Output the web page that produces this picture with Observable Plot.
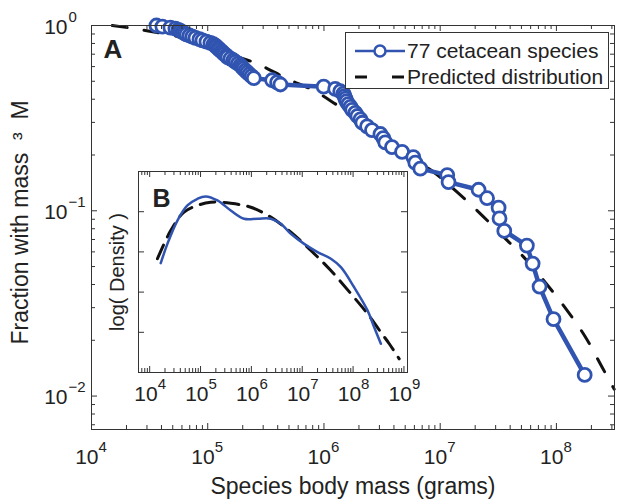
<!DOCTYPE html>
<html><head><meta charset="utf-8">
<script src="https://cdn.jsdelivr.net/npm/d3@7"></script>
<script src="https://cdn.jsdelivr.net/npm/@observablehq/plot@0.6"></script>
<style>
body{margin:0;background:#fff;}
#wrap{position:relative;width:624px;height:503px;font-family:"Liberation Sans",Arial,sans-serif;color:#222;overflow:hidden;}
#wrap > svg{position:absolute;}
#legend{position:absolute;left:345px;top:32px;width:264px;height:57px;border:1px solid #333;background:#fff;box-sizing:border-box;}
#legend .row{position:absolute;left:0;height:26px;width:262px;}
#legend .row svg{position:absolute;left:0;top:0;}
#legend .row span{position:absolute;left:61px;top:1px;font-size:21px;line-height:24px;white-space:nowrap;}
</style></head>
<body><div id="wrap"></div>
<script>
// ---------- data ----------
const speciesMass = [3.62e4,4.07e4,4.77e4,5.27e4,5.60e4,5.82e4,6.06e4,6.30e4,6.56e4,6.96e4,7.38e4,7.84e4,8.49e4,9.00e4,9.75e4,1.055e5,1.12e5,1.165e5,1.19e5,1.236e5,1.26e5,1.31e5,1.35e5,1.39e5,1.45e5,1.48e5,1.57e5,1.66e5,1.73e5,1.82e5,1.91e5,1.97e5,2.03e5,2.11e5,2.19e5,2.28e5,2.38e5,2.49e5,
  3.58e5,3.95e5,4.22e5,9.94e5,1.25e6,1.38e6,1.47e6,1.50e6,1.53e6,1.56e6,1.62e6,1.69e6,1.75e6,1.86e6,1.94e6,2.06e6,2.14e6,2.35e6,2.59e6,
  3.06e6,3.24e6,3.37e6,3.85e6,4.70e6,5.87e6,6.11e6,6.75e6,1.15e7,1.18e7,2.14e7,2.53e7,3.18e7,3.24e7,3.56e7,5.57e7,6.24e7,7.16e7,9.44e7,1.75e8];
const speciesFraction = [1.000,0.9870,0.9740,0.9610,0.9481,0.9351,0.9221,0.9091,0.8961,0.8831,0.8701,0.8571,0.8442,0.8312,0.8182,0.8052,0.7922,0.7792,0.7662,0.7532,0.7403,0.7273,0.7143,0.7013,0.6883,0.6753,0.6623,0.6494,0.6364,0.6234,0.6104,0.5974,0.5844,0.5714,0.5584,0.5455,0.5325,0.5195,
  0.5065,0.4935,0.4805,0.4675,0.4545,0.4416,0.4286,0.4156,0.4026,0.3896,0.3766,0.3636,0.3506,0.3377,0.3247,0.3117,0.2987,0.2857,0.2727,
  0.2597,0.2468,0.2338,0.2208,0.2078,0.1948,0.1818,0.1688,0.1558,0.1429,0.1299,0.1169,0.1039,0.0909,0.0779,0.0649,0.0519,0.0390,0.0260,0.0130];

const predictedMass = [1.51e4,2.39e4,3.55e4,6.65e4,1.37e5,2.66e5,4.82e5,8.11e5,1.38e6,2.86e6,4.54e6,8.77e6,1.40e7,2.21e7,3.29e7,5.21e7,7.74e7,1.23e8,1.77e8,2.46e8,3.14e8];
const predictedFraction = [1.0,0.960,0.920,0.848,0.718,0.622,0.516,0.447,0.363,0.272,0.212,0.162,0.126,0.0966,0.0753,0.0564,0.0422,0.0291,0.0209,0.0144,0.0109];

// inset B: log density (arbitrary units)
const densityMass = [1.65e4,2.23e4,3.51e4,5.52e4,8.69e4,1.26e5,2.15e5,3.93e5,7.18e5,1.32e6,2.41e6,3.79e6,5.97e6,1.09e7,2.00e7,3.66e7,5.75e7,1.05e8,1.93e8,2.60e8,3.52e8];
const densityEmpirical = [5.44,6.40,7.56,8.31,8.64,8.76,8.56,8.06,7.65,7.65,7.65,7.40,6.90,6.40,5.99,5.66,5.24,4.24,3.08,2.25,1.43];
const densityPredMass = [1.42e4,2.59e4,4.73e4,8.69e4,1.59e5,3.93e5,9.73e5,2.41e6,5.97e6,1.48e7,3.66e7,9.06e7,1.93e8,3.52e8,5.14e8,8.07e8];
const densityPredicted = [5.66,7.06,7.98,8.31,8.47,8.42,8.22,7.73,6.98,6.07,5.07,3.92,2.92,2.00,1.43,0.68];

const mainXTicks = [1e4,1e5,1e6,1e7,1e8];
const mainXTickExp = ["4","5","6","7","8"];
const mainYTicks = [1,0.1,0.01];
const mainYTickExp = ["0","\u22121","\u22122"];
const insetXTicks = [1e4,1e5,1e6,1e7,1e8,1e9];
const insetXTickExp = ["4","5","6","7","8","9"];
const insetYTicks = [2,4,6,8];
const seriesLabels = ["77 cetacean species","Predicted distribution"];
const xTitle = "Species body mass (grams)";
const yTitle = "Fraction with mass\u00a0\u00a0\u00b3\u00a0\u00a0M";
const insetYTitle = "log( Density )";
const panelLabels = ["A","B"];

// ---------- styles ----------
const blue = "#3054b0";
const ink = "#333";
const font = "Liberation Sans, Arial, Helvetica, sans-serif";
const wrap = document.getElementById("wrap");

function isMajor(t){ const l = Math.log10(t); return Math.abs(l - Math.round(l)) < 1e-6; }
function boxTickMarks(xTicks, yTicks, innerW, innerH, yLog){
  const marks = [];
  const xMaj = xTicks.filter(isMajor), xMin = xTicks.filter(t => !isMajor(t));
  const yMaj = yLog ? yTicks.filter(isMajor) : yTicks, yMin = yLog ? yTicks.filter(t => !isMajor(t)) : [];
  const M = 6, m = 4;
  for (const [arr, len] of [[xMaj, M],[xMin, m]]) {
    marks.push(Plot.tickX(arr, {x: d => d, insetTop: innerH - len, stroke: ink, strokeWidth: 1}));
    marks.push(Plot.tickX(arr, {x: d => d, insetBottom: innerH - len, stroke: ink, strokeWidth: 1}));
  }
  for (const [arr, len] of [[yMaj, M],[yMin, m]]) {
    marks.push(Plot.tickY(arr, {y: d => d, insetRight: innerW - len, stroke: ink, strokeWidth: 1}));
    marks.push(Plot.tickY(arr, {y: d => d, insetLeft: innerW - len, stroke: ink, strokeWidth: 1}));
  }
  return marks;
}

// ---------- main plot (A) ----------
{
  const W = 624, H = 503, mL = 91, mR = 10, mT = 25, mB = 74;
  const innerW = W - mL - mR, innerH = H - mT - mB;
  const xDom = [1e4, 3.16e8], yDom = [0.0066, 1];
  const xAll = d3.scaleLog().domain(xDom).ticks().filter(t => t >= xDom[0] && t <= xDom[1]);
  const yAll = d3.scaleLog().domain(yDom).ticks().filter(t => t >= yDom[0] && t <= yDom[1]);
  const species = speciesMass.map((m, i) => ({m, f: speciesFraction[i]}));
  const predicted = predictedMass.map((m, i) => ({m, f: predictedFraction[i]}));
  const svg = Plot.plot({
    width: W, height: H, marginLeft: mL, marginRight: mR, marginTop: mT, marginBottom: mB,
    style: {fontFamily: font, background: "white", color: "#222"},
    x: {type: "log", domain: xDom, axis: null},
    y: {type: "log", domain: yDom, axis: null},
    marks: [
      Plot.line(predicted, {x: "m", y: "f", stroke: "#111", strokeWidth: 3, strokeDasharray: "15,17", curve: "catmull-rom"}),
      Plot.line(species, {x: "m", y: "f", stroke: blue, strokeWidth: 4.5}),
      Plot.dot(species, {x: "m", y: "f", r: 6.5, stroke: blue, strokeWidth: 2.8, fill: "white"}),
      Plot.frame({stroke: ink, strokeWidth: 1}),
      ...boxTickMarks(xAll, yAll, innerW, innerH, true),
      Plot.text(mainXTicks, {x: d => d, frameAnchor: "bottom", lineAnchor: "middle", text: () => "10", textAnchor: "end", dx: 7, dy: 27.5, fontSize: 21}),
      Plot.text(mainXTicks, {x: d => d, frameAnchor: "bottom", lineAnchor: "middle", text: (d, i) => mainXTickExp[i], textAnchor: "start", dx: 7, dy: 18, fontSize: 15}),
      Plot.text(mainYTicks, {y: d => d, frameAnchor: "left", lineAnchor: "middle", text: () => "10", textAnchor: "end", dx: -24, dy: 1.5, fontSize: 21}),
      Plot.text(mainYTicks, {y: d => d, frameAnchor: "left", lineAnchor: "middle", text: (d, i) => mainYTickExp[i], textAnchor: "start", dx: -23, dy: -8.5, fontSize: 15}),
      Plot.text([xTitle], {text: d => d, frameAnchor: "bottom", lineAnchor: "middle", textAnchor: "middle", dy: 57, fontSize: 23}),
      Plot.text([yTitle], {text: d => d, frameAnchor: "left", lineAnchor: "middle", textAnchor: "middle", rotate: -90, dx: -71, dy: -5, fontSize: 23}),
      Plot.text([panelLabels[0]], {text: d => d, frameAnchor: "top-left", lineAnchor: "middle", textAnchor: "start", dx: 12, dy: 24, fontSize: 26, fontWeight: "bold"})
    ]
  });
  svg.style.left = "0px"; svg.style.top = "0px";
  wrap.appendChild(svg);
}

// ---------- inset (B) ----------
{
  const left = 96, top = 150, W = 330, H = 270;
  const mL = 42, mT = 21, mR = W - (407 - left), mB = H - (372 - top);
  const innerW = W - mL - mR, innerH = H - mT - mB;
  const xDom = [6026, 1.175e9], yDom = [0, 10];
  const xAll = d3.scaleLog().domain(xDom).ticks().filter(t => t >= xDom[0] && t <= xDom[1]);
  const emp = densityMass.map((m, i) => ({m, v: densityEmpirical[i]}));
  const pred = densityPredMass.map((m, i) => ({m, v: densityPredicted[i]}));
  const svg = Plot.plot({
    width: W, height: H, marginLeft: mL, marginRight: mR, marginTop: mT, marginBottom: mB,
    style: {fontFamily: font, background: "transparent", overflow: "visible", color: "#222"},
    x: {type: "log", domain: xDom, axis: null},
    y: {type: "linear", domain: yDom, axis: null},
    marks: [
      Plot.frame({fill: "white", stroke: null}),
      Plot.line(pred, {x: "m", y: "v", stroke: "#111", strokeWidth: 3, strokeDasharray: "15,9", curve: "catmull-rom"}),
      Plot.line(emp, {x: "m", y: "v", stroke: blue, strokeWidth: 2.5, curve: "catmull-rom"}),
      Plot.frame({stroke: ink, strokeWidth: 1}),
      ...boxTickMarks(xAll, insetYTicks, innerW, innerH, false),
      Plot.text(insetXTicks, {x: d => d, frameAnchor: "bottom", lineAnchor: "middle", text: () => "10", textAnchor: "end", dx: 8, dy: 22, fontSize: 21}),
      Plot.text(insetXTicks, {x: d => d, frameAnchor: "bottom", lineAnchor: "middle", text: (d, i) => insetXTickExp[i], textAnchor: "start", dx: 8, dy: 12, fontSize: 15}),
      Plot.text([insetYTitle], {text: d => d, frameAnchor: "left", lineAnchor: "middle", textAnchor: "middle", rotate: -90, dx: -21, dy: 0, fontSize: 20}),
      Plot.text([panelLabels[1]], {text: d => d, frameAnchor: "top-left", lineAnchor: "middle", textAnchor: "start", dx: 14, dy: 27, fontSize: 25, fontWeight: "bold"})
    ]
  });
  svg.style.left = left + "px"; svg.style.top = top + "px";
  wrap.appendChild(svg);
}

// ---------- legend ----------
{
  const lg = document.createElement("div");
  lg.id = "legend";
  const ns = "http://www.w3.org/2000/svg";
  seriesLabels.forEach((label, i) => {
    const row = document.createElement("div");
    row.className = "row";
    row.style.top = (i === 0 ? 5 : 31) + "px";
    const s = document.createElementNS(ns, "svg");
    s.setAttribute("width", 60); s.setAttribute("height", 26);
    const ln = document.createElementNS(ns, "line");
    ln.setAttribute("x1", 9); ln.setAttribute("x2", 59); ln.setAttribute("y1", 13); ln.setAttribute("y2", 13);
    if (i === 0) {
      ln.setAttribute("stroke", blue); ln.setAttribute("stroke-width", 2.5);
      s.appendChild(ln);
      const c = document.createElementNS(ns, "circle");
      c.setAttribute("cx", 34); c.setAttribute("cy", 13); c.setAttribute("r", 5.5);
      c.setAttribute("fill", "white"); c.setAttribute("stroke", blue); c.setAttribute("stroke-width", 2.5);
      s.appendChild(c);
    } else {
      ln.setAttribute("stroke", "#111"); ln.setAttribute("stroke-width", 3);
      ln.setAttribute("stroke-dasharray", "12,25");
      s.appendChild(ln);
    }
    row.appendChild(s);
    const t = document.createElement("span");
    t.textContent = label;
    row.appendChild(t);
    lg.appendChild(row);
  });
  wrap.appendChild(lg);
}
</script>
</body></html>
